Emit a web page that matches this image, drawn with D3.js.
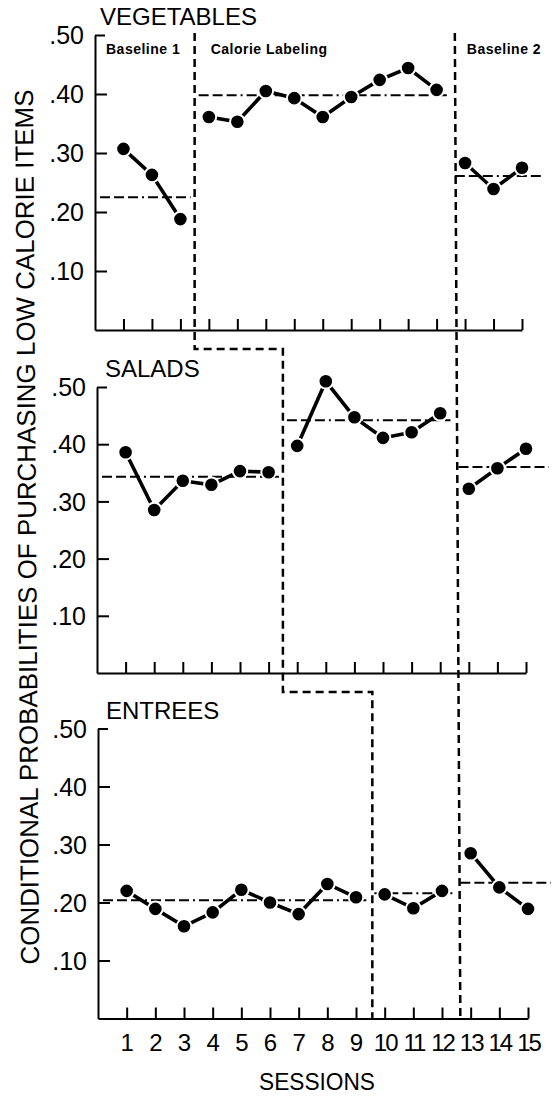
<!DOCTYPE html>
<html><head><meta charset="utf-8">
<script src="https://cdn.jsdelivr.net/npm/d3@7"></script>
<style>
body{margin:0;background:#fff}
svg{display:block}
text{font-family:"Liberation Sans",Arial,Helvetica,sans-serif;fill:#000}
</style>
</head><body>
<svg id="c" width="556" height="1097"></svg>
<script>
// ---- data ----
const sessions = d3.range(1, 16);
const sessionLabels = sessions.map(String);
const yTicks = [0.1, 0.2, 0.3, 0.4, 0.5];
const yTickLabels = [".10", ".20", ".30", ".40", ".50"];
const panelTitles = ["VEGETABLES", "SALADS", "ENTREES"];
const phaseNames = ["Baseline 1", "Calorie Labeling", "Baseline 2"];
const yTitle = "CONDITIONAL PROBABILITIES OF PURCHASING LOW CALORIE ITEMS";
const xTitle = "SESSIONS";

const vegetables = [0.307, 0.263, 0.188, 0.361, 0.353, 0.405, 0.393, 0.361, 0.395, 0.424, 0.444, 0.407, 0.283, 0.239, 0.275];
const salads     = [0.386, 0.285, 0.336, 0.329, 0.353, 0.351, 0.397, 0.510, 0.447, 0.411, 0.421, 0.454, 0.322, 0.358, 0.392];
const entrees    = [0.220, 0.189, 0.159, 0.183, 0.222, 0.200, 0.180, 0.232, 0.209, 0.214, 0.190, 0.220, 0.285, 0.226, 0.189];

const vegBreaks = [3.5, 12.5];
const saladBreaks = [6.5, 12.5];
const entreeBreaks = [9.5, 12.5];

const vegMeans = [0.225, 0.398, 0.261];
const saladMeans = [0.343, 0.442, 0.360];
const entreeMeans = [0.204, 0.216, 0.234];

// ---- layout ----
const layout = [
  {x: [95, 522], y: [330, 35]},
  {x: [97, 526], y: [673, 387]},
  {x: [98, 528], y: [1018.5, 728.5]}
];
const panelData = [
  {title: panelTitles[0], values: vegetables, breaks: vegBreaks, means: vegMeans},
  {title: panelTitles[1], values: salads, breaks: saladBreaks, means: saladMeans},
  {title: panelTitles[2], values: entrees, breaks: entreeBreaks, means: entreeMeans}
];

const svg = d3.select("#c");
const scales = [];

panelData.forEach((p, pi) => {
  const L = layout[pi];
  const x = d3.scaleLinear().domain([0, 15]).range(L.x);
  const y = d3.scaleLinear().domain([0, 0.5]).range(L.y);
  scales.push({x, y});
  const g = svg.append("g");

  // y axis
  const ya = g.append("g").attr("transform", `translate(${x(0)},0)`)
    .call(d3.axisLeft(y).tickValues(yTicks).tickSize(-12).tickSizeOuter(0).tickPadding(11)
      .tickFormat((d, i) => yTickLabels[i]));
  ya.selectAll("text").style("font-size", "25px").attr("dy", "0.35em");
  ya.selectAll(".tick line").attr("stroke-width", 2)
    .attr("x2", d => d === 0.5 ? 10 : 12);
  ya.select(".domain").attr("stroke-width", 2);

  // x axis
  const xa = g.append("g").attr("transform", `translate(0,${y(0)})`)
    .call(d3.axisTop(x).tickValues(sessions).tickSize(11).tickSizeOuter(0).tickFormat(""));
  xa.selectAll(".tick line").attr("stroke-width", 2);
  xa.select(".domain").attr("stroke-width", 2);

  if (pi === 2) {
    const xl = g.append("g").attr("transform", `translate(0,${y(0)})`)
      .call(d3.axisBottom(x).tickValues(sessions).tickSize(0).tickPadding(15)
        .tickFormat((d, i) => sessionLabels[i]));
    xl.select(".domain").remove();
    xl.selectAll("text").style("font-size", "24px")
      .style("letter-spacing", d => d >= 10 ? "-2px" : "0px");
  }

  // title
  g.append("text").attr("x", x(0) + (pi === 0 ? 5 : 8)).attr("y", y(0.5) - 10)
    .style("font-size", "24px").text(p.title);

  // means (dash-dot)
  const nPh = p.breaks.length + 1;
  p.means.forEach((m, k) => {
    const xs = k === 0 ? x(0) + 5 : x(p.breaks[k - 1]) + 4;
    const xe = k === nPh - 1 ? x(15.8) : x(p.breaks[k]) - 4;
    g.append("line").attr("x1", xs).attr("x2", xe).attr("y1", y(m)).attr("y2", y(m))
      .attr("stroke", "#000").attr("stroke-width", 2)
      .attr("stroke-dasharray", "10,4,10,4,10,4,2,4");
  });

  // data lines by phase
  const pts = sessions.map((s, i) => ({s, v: p.values[i], ph: p.breaks.filter(b => b < s).length}));
  const line = d3.line().x(d => x(d.s)).y(d => y(d.v));
  d3.range(nPh).forEach(k => {
    g.append("path").datum(pts.filter(d => d.ph === k)).attr("d", line)
      .attr("fill", "none").attr("stroke", "#000").attr("stroke-width", 3.6);
  });
  g.selectAll("circle.pt").data(pts).join("circle").attr("class", "pt")
    .attr("cx", d => x(d.s)).attr("cy", d => y(d.v)).attr("r", 7.3)
    .attr("fill", "#000").attr("stroke", "#fff").attr("stroke-width", 2);

  if (pi === 0) {
    const lx = [x(0) + 11, x(p.breaks[0]) + 16, x(p.breaks[1]) + 16];
    phaseNames.forEach((n, k) => {
      g.append("text").attr("x", lx[k]).attr("y", y(0.5) + 19)
        .style("font-size", "14px").style("font-weight", "bold").style("letter-spacing", "0.5px")
        .text(n);
    });
  }
});

// phase change lines
const [A, B, C] = scales;
const step = d3.path();
step.moveTo(A.x(vegBreaks[0]), A.y(0.5) - 2);
step.lineTo(A.x(vegBreaks[0]), A.y(0) + 19);
step.lineTo(B.x(saladBreaks[0]), A.y(0) + 19);
step.lineTo(B.x(saladBreaks[0]), B.y(0) + 19);
step.lineTo(C.x(entreeBreaks[0]) + 2, B.y(0) + 19);
step.lineTo(C.x(entreeBreaks[0]) + 2, C.y(0));
svg.append("path").attr("d", step.toString()).attr("fill", "none")
  .attr("stroke", "#000").attr("stroke-width", 2.5).attr("stroke-dasharray", "8,5");

svg.append("line")
  .attr("x1", A.x(vegBreaks[1]) + 4).attr("y1", A.y(0.5) - 2)
  .attr("x2", C.x(entreeBreaks[1]) + 4).attr("y2", C.y(0))
  .attr("stroke", "#000").attr("stroke-width", 2.5).attr("stroke-dasharray", "8,5");

// axis titles
svg.append("text").attr("transform", "translate(36,527) rotate(-90.4)")
  .attr("text-anchor", "middle").style("font-size", "26px")
  .attr("textLength", 875).attr("lengthAdjust", "spacingAndGlyphs").text(yTitle);

svg.append("text").attr("x", 317).attr("y", 1090).attr("text-anchor", "middle")
  .style("font-size", "24px").attr("textLength", 116).attr("lengthAdjust", "spacingAndGlyphs")
  .text(xTitle);
</script>
</body></html>
